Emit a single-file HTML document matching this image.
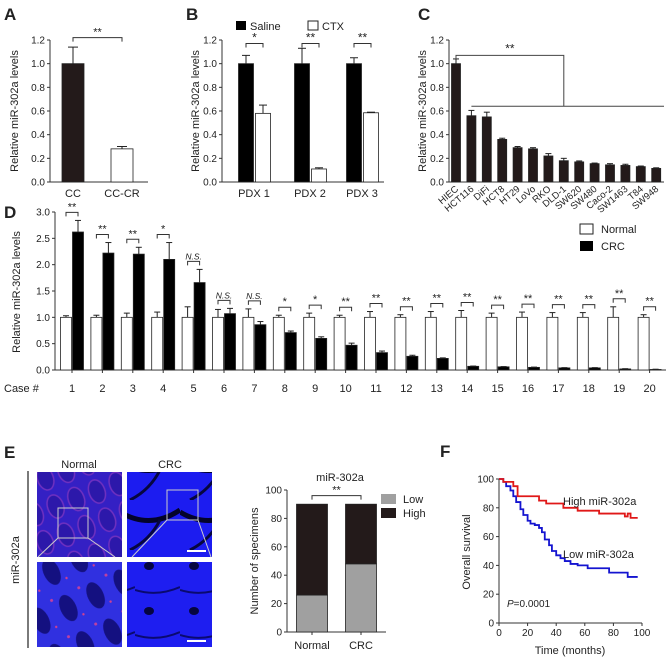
<!DOCTYPE html>
<html><head><meta charset="utf-8"><style>
body{margin:0;background:#fff}
svg{display:block;font-family:"Liberation Sans",Arial,sans-serif}
text{fill:#222}
</style></head><body>
<svg id="fig" width="668" height="661" viewBox="0 0 668 661" xmlns="http://www.w3.org/2000/svg">
<defs>
<pattern id="pN" width="22" height="30" patternUnits="userSpaceOnUse" patternTransform="rotate(-20)"><rect width="22" height="30" fill="#3420c4"/><ellipse cx="11" cy="15" rx="8" ry="12" fill="#2c18aa" stroke="#7030c0" stroke-width="1.5"/></pattern>
<pattern id="pNb" width="30" height="40" patternUnits="userSpaceOnUse" patternTransform="rotate(-25)"><rect width="30" height="40" fill="#3030e0"/><ellipse cx="15" cy="20" rx="8" ry="14" fill="#141080"/><circle cx="3" cy="6" r="1.5" fill="#c040a0"/><circle cx="26" cy="32" r="1.2" fill="#d04090"/></pattern>
<pattern id="pC" width="60" height="50" patternUnits="userSpaceOnUse"><rect width="60" height="50" fill="#1c1cf0"/><path d="M0 12 Q30 30 60 10" stroke="#03032a" stroke-width="5" fill="none"/><path d="M10 50 Q30 40 40 20" stroke="#060640" stroke-width="3" fill="none"/></pattern>
<pattern id="pCb" width="45" height="45" patternUnits="userSpaceOnUse"><rect width="45" height="45" fill="#1e1ef0"/><ellipse cx="14" cy="26" rx="5" ry="4" fill="#050540"/><path d="M0 5 Q22 12 45 2" stroke="#0a0a70" stroke-width="2" fill="none"/></pattern>
</defs>
<g id="root"></g>
</svg>
<script>
// ---------- DATA ----------
const aCats=["CC","CC-CR"];
const aVals=[1.0,0.28];
const aErr=[0.14,0.02];
const bCats=["PDX 1","PDX 2","PDX 3"];
const bSaline=[1.0,1.0,1.0];
const bSalineErr=[0.07,0.13,0.05];
const bCtx=[0.58,0.11,0.585];
const bCtxErr=[0.07,0.01,0.005];
const bSig=["*","**","**"];
const cCats=["HIEC","HCT116","DiFi","HCT8","HT29","LoVo","RKO","DLD-1","SW620","SW480","Caco-2","SW1463","T84","SW948"];
const cVals=[1.0,0.56,0.55,0.36,0.29,0.28,0.22,0.18,0.17,0.155,0.145,0.14,0.13,0.115];
const cErr=[0.04,0.045,0.04,0.01,0.01,0.01,0.02,0.02,0.008,0.005,0.01,0.01,0.005,0.005];
const yTicks12=[0,0.2,0.4,0.6,0.8,1.0,1.2];
const dCases=["1","2","3","4","5","6","7","8","9","10","11","12","13","14","15","16","17","18","19","20"];
const dNormal=[1,1,1,1,1,1,1,1,1,1,1,1,1,1,1,1,1,1,1,1];
const dNormalErr=[0.03,0.04,0.08,0.1,0.2,0.15,0.16,0.04,0.08,0.04,0.11,0.05,0.11,0.13,0.08,0.1,0.09,0.09,0.2,0.05];
const dCrc=[2.62,2.22,2.2,2.1,1.66,1.07,0.86,0.71,0.6,0.47,0.33,0.26,0.22,0.07,0.06,0.05,0.04,0.04,0.02,0.01];
const dCrcErr=[0.22,0.2,0.13,0.32,0.25,0.1,0.06,0.03,0.03,0.04,0.03,0.02,0.01,0.005,0.005,0.005,0.005,0.005,0.005,0.005];
const dSig=["**","**","**","*","N.S.","N.S.","N.S.","*","*","**","**","**","**","**","**","**","**","**","**","**"];
const dTicks=[0,0.5,1.0,1.5,2.0,2.5,3.0];
const eCats=["Normal","CRC"];
const eLow=[26,48];
const eHigh=[64,42];
const eTicks=[0,20,40,60,80,100];
const fHighT=[0,3,10,13,25,28,33,45,55,70,88,90,92,97];
const fHighS=[100,98,95,88,88,85,83,80,78,76,74,76,73,73];
const fLowT=[0,3,5,8,10,12,15,17,20,22,25,28,30,32,35,37,40,43,46,50,55,62,77,88,90,97];
const fLowS=[100,98,95,92,88,84,79,75,71,69,68,66,63,58,54,50,47,45,43,41,40,38,35,35,32,32];
const fTicks=[0,20,40,60,80,100];

// ---------- HELPERS ----------
const NS="http://www.w3.org/2000/svg";
const root=document.getElementById('root');
function el(tag,attrs,parent,txt){const e=document.createElementNS(NS,tag);for(const k in attrs)e.setAttribute(k,attrs[k]);if(txt!==undefined)e.textContent=txt;(parent||root).appendChild(e);return e;}
function grp(name){const g=el('g',{});return g;}
const INK="#231a1a";
function lin(a,b,c,d){return v=>c+(v-a)*(d-c)/(b-a);}
function yAxis(g,x,y,ticks,fmt){
  el('line',{x1:x,y1:y(ticks[0]),x2:x,y2:y(ticks[ticks.length-1]),stroke:'#333','stroke-width':1},g);
  ticks.forEach(t=>{el('line',{x1:x-3,y1:y(t),x2:x,y2:y(t),stroke:'#333'},g);
    const tx=el('text',{x:x-5,y:y(t)+3.5,'font-size':10,'text-anchor':'end'},g,fmt(t));
    });
}
function ylabel(g,x,y,s,fs){const t=el('text',{x:x,y:y,'font-size':fs||11,'text-anchor':'middle',transform:`rotate(-90 ${x} ${y})`},g,s);}
function bar(g,cx,w,y0,y1,fill,name){const r=el('rect',{x:cx-w/2,y:Math.min(y0,y1),width:w,height:Math.abs(y0-y1),fill:fill,stroke:'#222','stroke-width':0.8},g);return r;}
function err(g,cx,yTop,yErr,w){el('line',{x1:cx,y1:yTop,x2:cx,y2:yErr,stroke:'#222'},g);el('line',{x1:cx-w,y1:yErr,x2:cx+w,y2:yErr,stroke:'#222'},g);}
function bracket(g,x1,x2,y,s,fs,italic){el('path',{d:`M${x1} ${y+4}V${y}H${x2}V${y+4}`,fill:'none',stroke:'#333'},g);
  const t=el('text',{x:(x1+x2)/2,y:y-2,'font-size':fs||11,'text-anchor':'middle','font-style':italic?'italic':'normal'},g,s);}
function panelLabel(x,y,s){const t=el('text',{x:x,y:y,'font-size':17,'font-weight':'bold'},root,s);}
const f1=v=>v.toFixed(1);

// ---------- PANEL A ----------
panelLabel(4,20,"A");
{const g=grp('panel-a-chart');const y=lin(0,1.2,182,40);const x0=50;
 yAxis(g,x0,y,yTicks12,f1);
 el('line',{x1:x0,y1:182,x2:148,y2:182,stroke:'#333'},g);
 ylabel(g,18,111,"Relative miR-302a levels",11);
 const xs=[73,122];
 aCats.forEach((c,i)=>{const cx=xs[i];
   bar(g,cx,22,y(0),y(aVals[i]),i==0?INK:'#fff','bar-'+c.toLowerCase());
   err(g,cx,y(aVals[i]),y(aVals[i]+aErr[i]),5);
   const t=el('text',{x:cx,y:197,'font-size':11,'text-anchor':'middle'},g,c);});
 bracket(g,xs[0],xs[1],y(1.22),"**",11);
}
// ---------- PANEL B ----------
panelLabel(186,20,"B");
{const g=grp('panel-b-chart');const y=lin(0,1.2,182,40);const x0=222;
 yAxis(g,x0,y,yTicks12,f1);
 el('line',{x1:x0,y1:182,x2:384,y2:182,stroke:'#333'},g);
 ylabel(g,199,111,"Relative miR-302a levels",11);
 const lg=grp('legend-b');
 el('rect',{x:236,y:21,width:10,height:9,fill:'#000'},lg);el('text',{x:250,y:30,'font-size':11},lg,"Saline");
 el('rect',{x:308,y:21,width:10,height:9,fill:'#fff',stroke:'#222'},lg);el('text',{x:322,y:30,'font-size':11},lg,"CTX");
 const xs=[254,310,362];
 bCats.forEach((c,i)=>{const cx=xs[i];
   bar(g,cx-8,15,y(0),y(bSaline[i]),'#000','bar-saline-'+(i+1));
   err(g,cx-8,y(bSaline[i]),y(bSaline[i]+bSalineErr[i]),4);
   bar(g,cx+9,15,y(0),y(bCtx[i]),'#fff','bar-ctx-'+(i+1));
   err(g,cx+9,y(bCtx[i]),y(bCtx[i]+bCtxErr[i]),4);
   bracket(g,cx-8,cx+9,y(1.17),bSig[i],12);
   const t=el('text',{x:cx,y:197,'font-size':11,'text-anchor':'middle'},g,c);});
}
// ---------- PANEL C ----------
panelLabel(418,20,"C");
{const g=grp('panel-c-chart');const y=lin(0,1.2,182,40);const x0=449;
 yAxis(g,x0,y,yTicks12,f1);
 el('line',{x1:x0,y1:182,x2:664,y2:182,stroke:'#333'},g);
 ylabel(g,426,111,"Relative miR-302a levels",11);
 const x=i=>456+i*15.4;
 cCats.forEach((c,i)=>{
   bar(g,x(i),9,y(0),y(cVals[i]),INK,'bar-'+c.toLowerCase());
   err(g,x(i),y(cVals[i]),y(cVals[i]+cErr[i]),3);
   const t=el('text',{x:x(i)+3,y:190,'font-size':9.5,'text-anchor':'end',transform:`rotate(-40 ${x(i)+3} 190)`},g,c);});
 el('path',{d:`M${x(0)} ${y(0.96)-10}V${y(1.07)}H${x(7)}V${y(0.64)}`,fill:'none',stroke:'#444'},g);
 el('line',{x1:x(1),y1:y(0.64),x2:664,y2:y(0.64),stroke:'#444'},g);
 el('text',{x:(x(0)+x(7))/2,y:y(1.07)-3,'font-size':12,'text-anchor':'middle'},g,"**");
}
// ---------- PANEL D ----------
panelLabel(4,218,"D");
{const g=grp('panel-d-chart');const y=lin(0,3,370,212);const x0=55;
 yAxis(g,x0,y,dTicks,f1);
 el('line',{x1:x0,y1:370,x2:666,y2:370,stroke:'#333'},g);
 ylabel(g,20,292,"Relative miR-302a levels",11);
 const x=i=>72+i*30.4;
 el('text',{x:4,y:392,'font-size':11},g,"Case #");
 dCases.forEach((c,i)=>{const cx=x(i);
   el('line',{x1:cx,y1:370,x2:cx,y2:373,stroke:'#333'},g);
   bar(g,cx-6,11,y(0),y(dNormal[i]),'#fff','bar-normal-case-'+c);
   err(g,cx-6,y(dNormal[i]),y(dNormal[i]+dNormalErr[i]),3);
   bar(g,cx+6,11,y(0),y(dCrc[i]),'#000','bar-crc-case-'+c);
   err(g,cx+6,y(dCrc[i]),y(dCrc[i]+dCrcErr[i]),3);
   const top=Math.max(dNormal[i]+dNormalErr[i],dCrc[i]+dCrcErr[i]);
   const ns=dSig[i]=="N.S.";
   bracket(g,cx-6,cx+6,y(top)-8,dSig[i],ns?8.5:11,ns);
   const t=el('text',{x:cx,y:392,'font-size':11,'text-anchor':'middle'},g,c);});
 const lg=grp('legend-d');
 el('rect',{x:580,y:224,width:13,height:10,fill:'#fff',stroke:'#222'},lg);el('text',{x:601,y:233,'font-size':11},lg,"Normal");
 el('rect',{x:580,y:241,width:13,height:10,fill:'#000'},lg);el('text',{x:601,y:250,'font-size':11},lg,"CRC");
}
// ---------- PANEL E (images) ----------
panelLabel(4,458,"E");
{const g=grp('panel-e-images');
 el('text',{x:79,y:468,'font-size':11,'text-anchor':'middle'},g,"Normal");
 el('text',{x:170,y:468,'font-size':11,'text-anchor':'middle'},g,"CRC");
 el('line',{x1:28,y1:471,x2:28,y2:648,stroke:'#222','stroke-width':1.2},g);
 el('text',{x:19,y:560,'font-size':11,'text-anchor':'middle',transform:'rotate(-90 19 560)'},g,"miR-302a");
 const im=[[37,472,'url(#pN)','image-normal-low-mag'],[127,472,'url(#pC)','image-crc-low-mag'],[37,562,'url(#pNb)','image-normal-high-mag'],[127,562,'url(#pCb)','image-crc-high-mag']];
 im.forEach(a=>{const r=el('rect',{x:a[0],y:a[1],width:85,height:85,fill:a[2]},g);});
 el('rect',{x:58,y:508,width:30,height:30,fill:'none',stroke:'#ccc'},g);
 el('path',{d:'M58 538L38 557M88 538L115 557',stroke:'#ccc',fill:'none'},g);
 el('rect',{x:167,y:490,width:31,height:30,fill:'none',stroke:'#ccc'},g);
 el('path',{d:'M167 520L132 557M198 520L211 557',stroke:'#ccc',fill:'none'},g);
 el('line',{x1:187,y1:551,x2:206,y2:551,stroke:'#fff','stroke-width':2},g);
 el('line',{x1:187,y1:641,x2:206,y2:641,stroke:'#fff','stroke-width':2},g);
}
// ---------- PANEL E (stacked bars) ----------
{const g=grp('panel-e-chart');const y=lin(0,100,632,490);const x0=287;
 yAxis(g,x0,y,eTicks,v=>String(v));
 el('line',{x1:x0,y1:632,x2:386,y2:632,stroke:'#333'},g);
 ylabel(g,258,561,"Number of specimens",11);
 el('text',{x:340,y:481,'font-size':11,'text-anchor':'middle'},g,"miR-302a");
 const xs=[312,361];
 eCats.forEach((c,i)=>{const cx=xs[i];
   el('line',{x1:cx,y1:632,x2:cx,y2:635,stroke:'#333'},g);
   bar(g,cx,31,y(0),y(eLow[i]),'#a0a0a0','bar-low-'+c.toLowerCase());
   bar(g,cx,31,y(eLow[i]),y(eLow[i]+eHigh[i]),INK,'bar-high-'+c.toLowerCase());
   const t=el('text',{x:cx,y:649,'font-size':11,'text-anchor':'middle'},g,c);});
 bracket(g,xs[0],xs[1],y(96),"**",11);
 const lg=grp('legend-e');
 el('rect',{x:381,y:494,width:15,height:10,fill:'#a0a0a0'},lg);el('text',{x:403,y:503,'font-size':11},lg,"Low");
 el('rect',{x:381,y:508,width:15,height:10,fill:INK},lg);el('text',{x:403,y:517,'font-size':11},lg,"High");
}
// ---------- PANEL F ----------
panelLabel(440,457,"F");
{const g=grp('panel-f-chart');const y=lin(0,100,623,479);const x=lin(0,100,499,642);
 yAxis(g,x(0),y,fTicks,v=>String(v));
 el('line',{x1:x(0),y1:y(0),x2:x(100),y2:y(0),stroke:'#333'},g);
 fTicks.forEach(t=>{el('line',{x1:x(t),y1:y(0),x2:x(t),y2:y(0)+3,stroke:'#333'},g);
   const tx=el('text',{x:x(t),y:y(0)+13,'font-size':10,'text-anchor':'middle'},g,String(t));});
 ylabel(g,470,552,"Overall survival",11);
 el('text',{x:570,y:654,'font-size':11,'text-anchor':'middle'},g,"Time (months)");
 function km(T,S,color,name){let d=`M${x(T[0])} ${y(S[0])}`;for(let i=1;i<T.length;i++){d+=`H${x(T[i])}V${y(S[i])}`;}
   const p=el('path',{d:d,fill:'none',stroke:color,'stroke-width':1.8},g);}
 km(fLowT,fLowS,'#1414d0','curve-low-mir302a');
 km(fHighT,fHighS,'#e01818','curve-high-mir302a');
 el('text',{x:563,y:505,'font-size':11},g,"High miR-302a");
 el('text',{x:563,y:558,'font-size':11},g,"Low miR-302a");
 const p=el('text',{x:507,y:607,'font-size':10},g);el('tspan',{'font-style':'italic'},p,"P");el('tspan',{},p,"=0.0001");
}
</script>
</body></html>
